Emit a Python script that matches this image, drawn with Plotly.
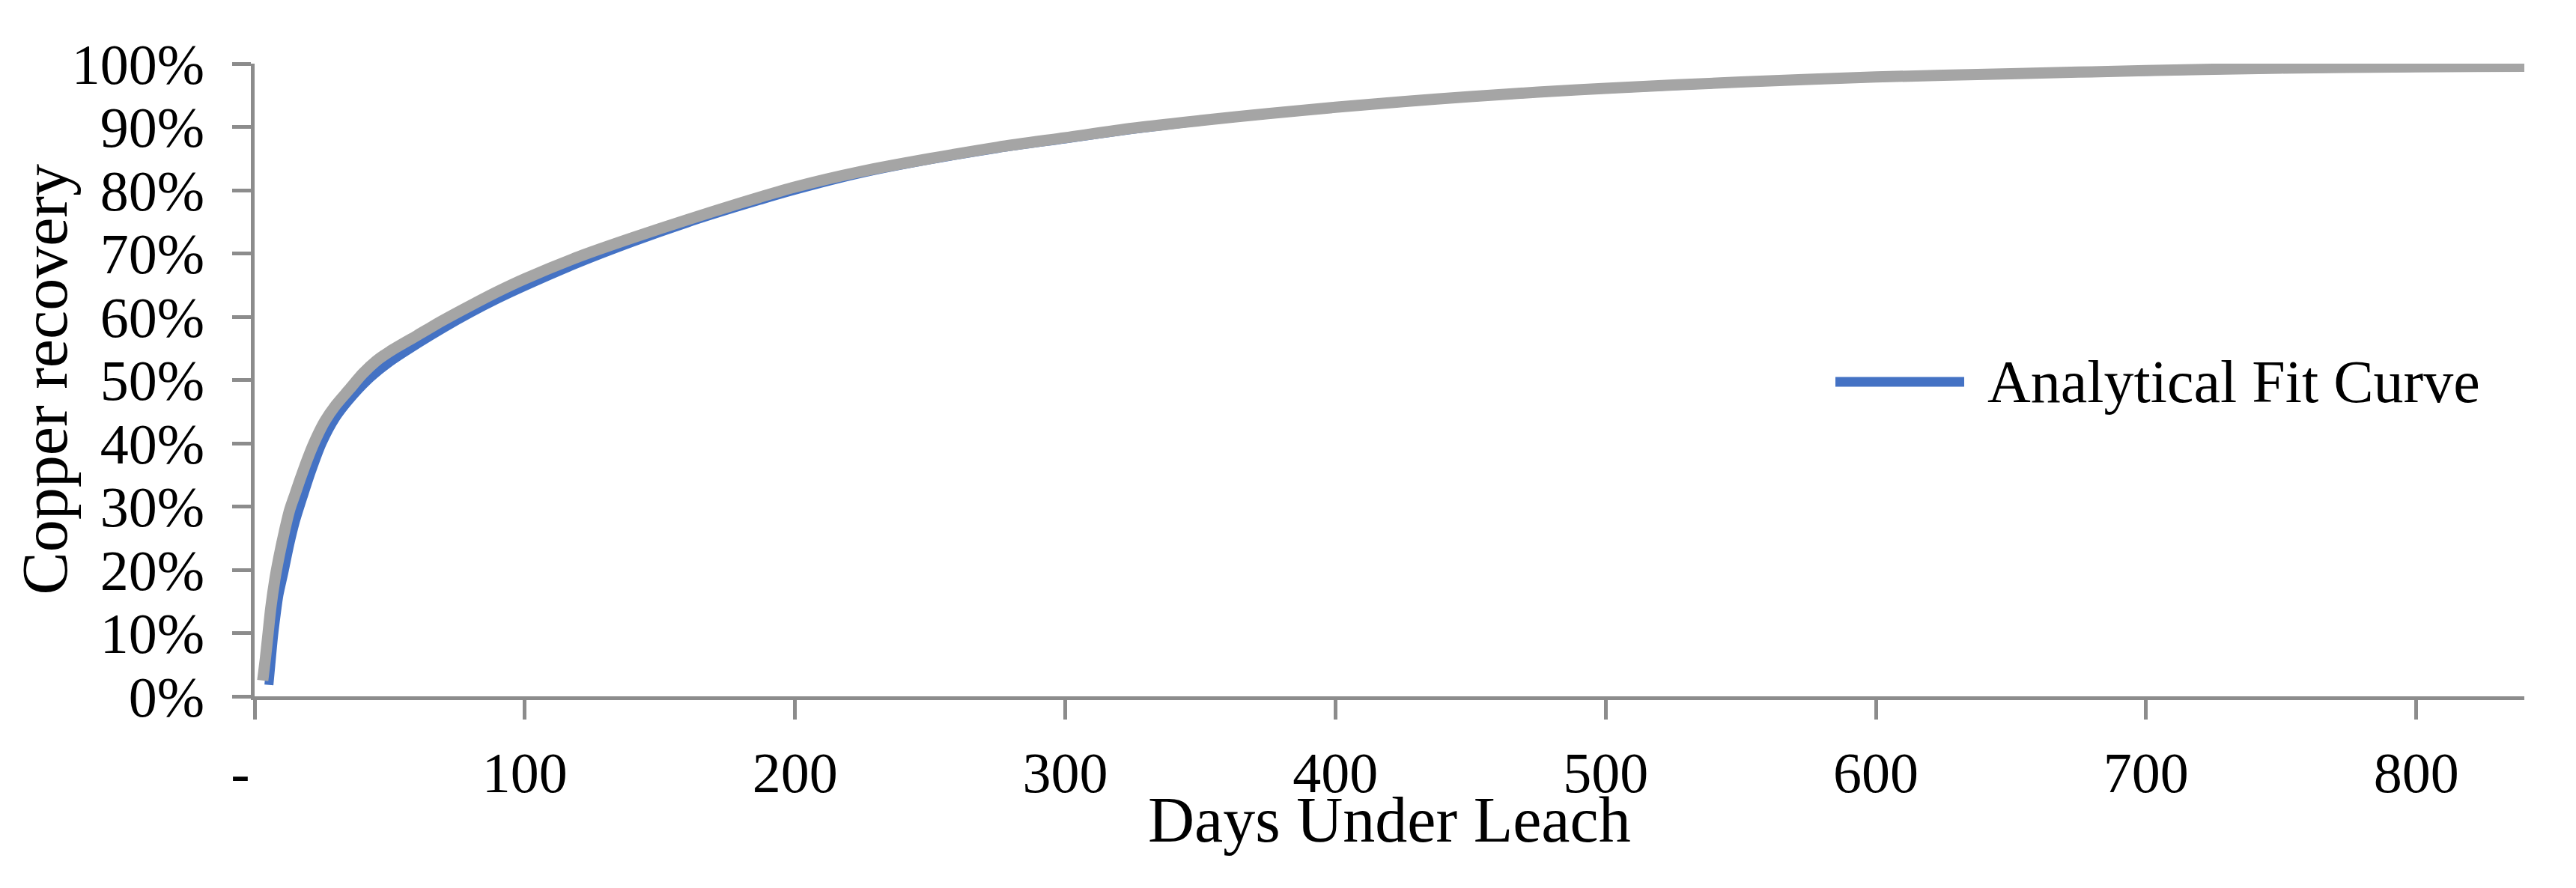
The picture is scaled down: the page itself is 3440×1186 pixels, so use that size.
import plotly.graph_objects as go

# ---------------- data ----------------
fit_days = [5.3, 6, 7, 8, 9, 10.8, 13, 15, 18, 21, 25, 30, 35, 42, 50, 60, 70, 80, 90, 100,
            120, 140, 160, 180, 200, 225, 250, 275, 300, 325, 350, 375, 400, 425, 450, 475,
            500, 550, 600, 650, 700, 750, 800, 840]
fit_recovery = [0.018, 0.05, 0.095, 0.13, 0.16, 0.195, 0.24, 0.275, 0.316, 0.355, 0.40, 0.44,
                0.468, 0.50, 0.528, 0.556, 0.582, 0.606, 0.628, 0.648, 0.685, 0.718, 0.748,
                0.775, 0.80, 0.827, 0.848, 0.866, 0.881, 0.896, 0.909, 0.920, 0.930, 0.939,
                0.947, 0.954, 0.960, 0.970, 0.978, 0.984, 0.988, 0.992, 0.994, 0.995]

data_days = [3, 4, 5, 6, 7.5, 9, 11, 13, 15, 17, 20, 23, 26, 30, 35, 40, 45, 50, 60, 70, 80,
             90, 100, 120, 140, 160, 180, 200, 225, 250, 275, 300, 325, 350, 375, 400, 425,
             450, 475, 500, 550, 600, 650, 700, 750, 800, 840]
data_recovery = [0.025, 0.06, 0.10, 0.14, 0.185, 0.22, 0.26, 0.295, 0.32, 0.345, 0.38, 0.41,
                 0.435, 0.46, 0.485, 0.51, 0.53, 0.545, 0.57, 0.595, 0.618, 0.64, 0.66, 0.695,
                 0.725, 0.753, 0.78, 0.805, 0.83, 0.85, 0.868, 0.883, 0.898, 0.91, 0.921,
                 0.931, 0.94, 0.948, 0.955, 0.961, 0.971, 0.979, 0.984, 0.989, 0.993, 0.995,
                 0.996]

x_tick_vals = [0, 100, 200, 300, 400, 500, 600, 700, 800]
x_tick_text = ["-\u00a0\u00a0", "100", "200", "300", "400", "500", "600", "700", "800"]
y_tick_vals = [0, 0.1, 0.2, 0.3, 0.4, 0.5, 0.6, 0.7, 0.8, 0.9, 1.0]

fit_label = "Analytical Fit Curve"
x_title = "Days Under Leach"
y_title = "Copper recovery"

# ---------------- styles ----------------
FONT = "Liberation Serif, Times New Roman, serif"
BLUE = "#4472C4"
GRAY = "#A5A5A5"
AXIS = "#8C8C8C"

OFF = 8  # page body margin of the html page
W, H = 3440 - OFF, 1186 - OFF
L, R, T, B = 340 - OFF, 77 - OFF, 85 - OFF, 264 - OFF
X0, Y0 = 340, 922  # screen position of the plot origin

fig = go.Figure()
fig.add_trace(go.Scatter(x=fit_days, y=fit_recovery, mode="lines", name=fit_label,
                         line=dict(color=BLUE, width=12, shape="spline", smoothing=0.8),
                         showlegend=False))
fig.add_trace(go.Scatter(x=data_days, y=data_recovery, mode="lines", name="Data",
                         line=dict(color=GRAY, width=15, shape="spline", smoothing=0.8),
                         showlegend=False))

axis_common = dict(showline=True, linecolor=AXIS, linewidth=4.5, ticks="outside",
                   tickcolor=AXIS, tickwidth=4.5, showgrid=False, zeroline=False,
                   automargin=False,
                   tickfont=dict(family=FONT, size=76, color="black"))

fig.update_xaxes(range=[0, 840], tickmode="array", tickvals=x_tick_vals,
                 ticktext=x_tick_text, ticklen=26, ticklabelstandoff=6, **axis_common)
fig.update_yaxes(range=[0, 1], tickmode="array", tickvals=y_tick_vals, tickformat=".0%",
                 ticklen=25, ticklabelstandoff=22, **axis_common)

pw = W - L - R
ph = H - T - B

# manual legend (long line sample like the original)
leg_y = (Y0 - 502) / ph
fig.add_shape(type="line", xref="paper", yref="paper",
              x0=(2451 - X0) / pw, x1=(2623 - X0) / pw, y0=leg_y, y1=leg_y,
              line=dict(color=BLUE, width=13))
fig.add_annotation(xref="paper", yref="paper", x=(2652 - X0) / pw, y=leg_y,
                   xanchor="left", yanchor="middle", showarrow=False, text=fit_label,
                   font=dict(family=FONT, size=80, color="black"))

# axis titles
fig.add_annotation(xref="paper", yref="paper", x=0.5, y=(Y0 - 1087) / ph,
                   xanchor="center", yanchor="middle", showarrow=False, text=x_title,
                   font=dict(family=FONT, size=86, color="black"))
fig.add_annotation(xref="paper", yref="paper", x=(59 - X0) / pw, y=0.5,
                   xanchor="center", yanchor="middle", showarrow=False, text=y_title,
                   textangle=-90, font=dict(family=FONT, size=86, color="black"))

fig.update_layout(width=W, height=H, margin=dict(l=L, r=R, t=T, b=B),
                  paper_bgcolor="white", plot_bgcolor="white", showlegend=False,
                  font=dict(family=FONT, color="black"))

fig.write_html("out.html")
